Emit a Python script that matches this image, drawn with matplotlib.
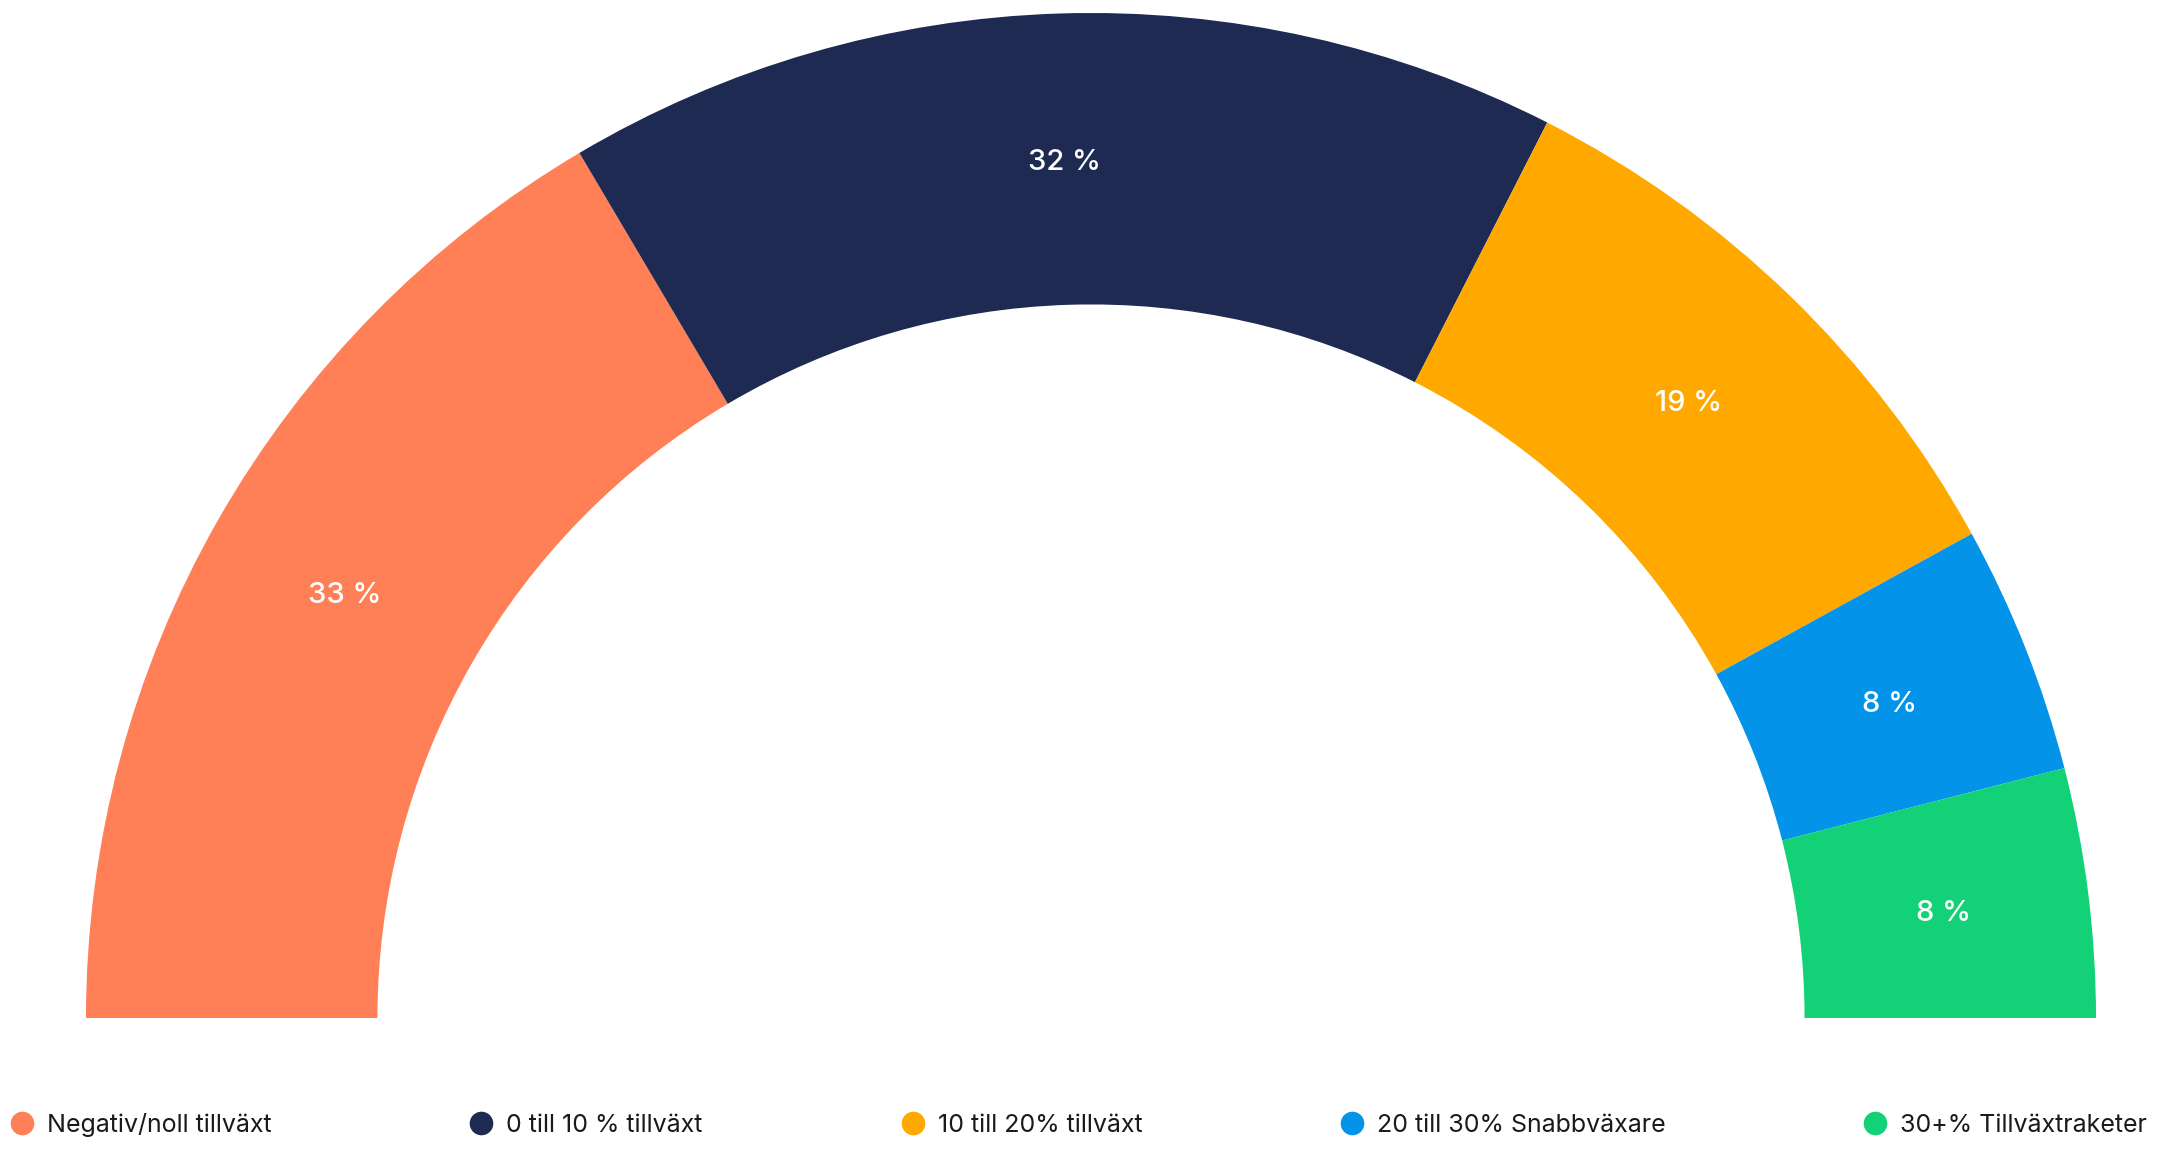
import numpy as np
import matplotlib
matplotlib.use('Agg')
import matplotlib.pyplot as plt
from matplotlib.lines import Line2D

categories = ['Negativ/noll tillväxt', '0 till 10 % tillväxt', '10 till 20% tillväxt',
              '20 till 30% Snabbväxare', '30+% Tillväxtraketer']
shares = [33, 32, 19, 8, 8]
share_labels = ['33 %', '32 %', '19 %', '8 %', '8 %']
colours = ['#FF7F57', '#1F2A53', '#FFA800', '#0393E8', '#12D176']

plt.rcParams['font.family'] = ['Inter', 'DejaVu Sans']

fig = plt.figure(figsize=(21.58, 11.5), dpi=100)
ax = fig.add_axes([0, 0, 1, 1])

# half donut: the bottom half is an invisible slice the size of the total
total = sum(shares)
ring = 0.29
wedges, _ = ax.pie(shares + [total], colors=colours + ['none'], startangle=180,
                   counterclock=False, radius=1.0,
                   wedgeprops=dict(width=ring, linewidth=0))

# centre at (1091, 1018 from top) px, outer radius 1005 px
cx, cy, R = 1091, 1018, 1005
ax.set_xlim(-cx / R, (2158 - cx) / R)
ax.set_ylim(-(1150 - cy) / R, cy / R)
ax.set_aspect('auto')
ax.axis('off')

# value labels in the middle of each ring segment
r_mid = 1.0 - ring / 2
cum = 0
for value, text in zip(shares, share_labels):
    mid = 180 - (cum + value / 2) / total * 180
    cum += value
    theta = np.deg2rad(mid)
    ax.text(r_mid * np.cos(theta), r_mid * np.sin(theta), text, color='white',
            fontsize=21, fontweight='medium', ha='center', va='center_baseline')

handles = [Line2D([], [], marker='o', linestyle='none', markersize=17,
                  markerfacecolor=c, markeredgewidth=0) for c in colours]
fig.legend(handles, categories, loc='center', ncol=5, mode='expand',
           bbox_to_anchor=(0.005, 0.022, 0.99, 0), frameon=False,
           fontsize=18, handlelength=0.9, handletextpad=0.55,
           borderpad=0, borderaxespad=0, labelcolor='#1a1a1a')

fig.savefig('out.png', dpi=100)
